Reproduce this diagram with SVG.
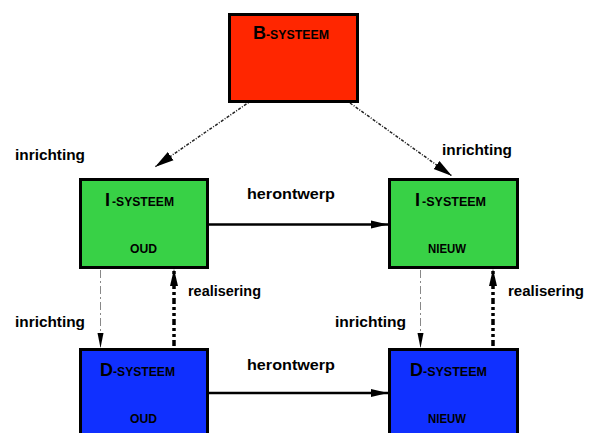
<svg xmlns="http://www.w3.org/2000/svg" width="592" height="433" viewBox="0 0 592 433">
<defs>
<style>
.box{stroke:#000;stroke-width:3}
.t{font-family:"Liberation Sans",Arial,sans-serif;font-weight:bold;fill:#000}
.lbl{font-size:15px}
.big{font-size:18px}
.sm{font-size:12.5px}
.solid{stroke:#000;stroke-width:2.5;fill:none}
.thin{stroke:#888;stroke-width:1;fill:none;stroke-dasharray:8 3 2 3}
.diag{stroke:#222;stroke-width:1.5;fill:none;stroke-dasharray:3 1.5 1 1.5}
.real{stroke:#000;stroke-width:3.5;fill:none;stroke-dasharray:6 3 3 3 3 3}
</style>
<marker id="ah" markerWidth="18" markerHeight="10" refX="17" refY="5" orient="auto" markerUnits="userSpaceOnUse"><path d="M0,1 L17,5 L0,9 Z" fill="#000"/></marker>
<marker id="ahn" markerWidth="16" markerHeight="8" refX="15" refY="4" orient="auto" markerUnits="userSpaceOnUse"><path d="M0,1 L15,4 L0,7 Z" fill="#000"/></marker>
<marker id="ahd" markerWidth="20" markerHeight="12" refX="19" refY="6" orient="auto" markerUnits="userSpaceOnUse"><path d="M0,1 L19,6 L0,11 Z" fill="#000"/></marker>
</defs>
<rect width="592" height="433" fill="#fff"/>

<g id="connectors">
<line class="diag" x1="258" y1="96" x2="155" y2="167" marker-end="url(#ahd)"/>
<line class="diag" x1="350" y1="103" x2="452" y2="176" marker-end="url(#ahd)"/>
<line class="solid" x1="205" y1="224.5" x2="388" y2="224.5" marker-end="url(#ah)"/>
<line class="solid" x1="205" y1="393" x2="388" y2="393" marker-end="url(#ah)"/>
<line class="thin" x1="100.5" y1="270" x2="100.5" y2="348" marker-end="url(#ahn)"/>
<line class="thin" x1="420.5" y1="270" x2="420.5" y2="348" marker-end="url(#ahn)"/>
<line class="real" x1="174" y1="346" x2="174" y2="269" marker-end="url(#ah)"/>
<line class="real" x1="493" y1="346" x2="493" y2="269" marker-end="url(#ah)"/>
</g>

<g id="labels">
<text class="t lbl" x="15" y="160" textLength="70" lengthAdjust="spacingAndGlyphs">inrichting</text>
<text class="t lbl" x="442" y="155" textLength="70" lengthAdjust="spacingAndGlyphs">inrichting</text>
<text class="t lbl" x="15" y="327" textLength="70" lengthAdjust="spacingAndGlyphs">inrichting</text>
<text class="t lbl" x="335" y="327" textLength="71" lengthAdjust="spacingAndGlyphs">inrichting</text>
<text class="t lbl" x="247" y="199" textLength="88" lengthAdjust="spacingAndGlyphs">herontwerp</text>
<text class="t lbl" x="247" y="370" textLength="88" lengthAdjust="spacingAndGlyphs">herontwerp</text>
<text class="t lbl" x="188" y="296" textLength="73" lengthAdjust="spacingAndGlyphs">realisering</text>
<text class="t lbl" x="508" y="296" textLength="76" lengthAdjust="spacingAndGlyphs">realisering</text>
</g>

<g id="b-systeem">
<rect class="box" x="229.5" y="14.5" width="128" height="87" fill="#ff2600"/>
<text class="t" x="253" y="39"><tspan class="big">B</tspan><tspan class="sm" textLength="63" lengthAdjust="spacingAndGlyphs">-SYSTEEM</tspan></text>
</g>

<g id="i-systeem-oud">
<rect class="box" x="80.5" y="179.5" width="127" height="88" fill="#38d146"/>
<text class="t" x="105" y="206"><tspan class="big">I</tspan><tspan class="sm" dx="2" textLength="62" lengthAdjust="spacingAndGlyphs">-SYSTEEM</tspan></text>
<text class="t sm" x="130" y="253" textLength="27" lengthAdjust="spacingAndGlyphs">OUD</text>
</g>

<g id="i-systeem-nieuw">
<rect class="box" x="389.5" y="179.5" width="128" height="88" fill="#38d146"/>
<text class="t" x="415" y="206"><tspan class="big">I</tspan><tspan class="sm" dx="2" textLength="64" lengthAdjust="spacingAndGlyphs">-SYSTEEM</tspan></text>
<text class="t sm" x="428" y="253" textLength="38" lengthAdjust="spacingAndGlyphs">NIEUW</text>
</g>

<g id="d-systeem-oud">
<rect class="box" x="80.5" y="349.5" width="127" height="90" fill="#1030ff"/>
<text class="t" x="100" y="376"><tspan class="big">D</tspan><tspan class="sm" textLength="62" lengthAdjust="spacingAndGlyphs">-SYSTEEM</tspan></text>
<text class="t sm" x="130" y="423" textLength="27" lengthAdjust="spacingAndGlyphs">OUD</text>
</g>

<g id="d-systeem-nieuw">
<rect class="box" x="389.5" y="349.5" width="128" height="90" fill="#1030ff"/>
<text class="t" x="410" y="376"><tspan class="big">D</tspan><tspan class="sm" textLength="64" lengthAdjust="spacingAndGlyphs">-SYSTEEM</tspan></text>
<text class="t sm" x="428" y="423" textLength="38" lengthAdjust="spacingAndGlyphs">NIEUW</text>
</g>
</svg>
